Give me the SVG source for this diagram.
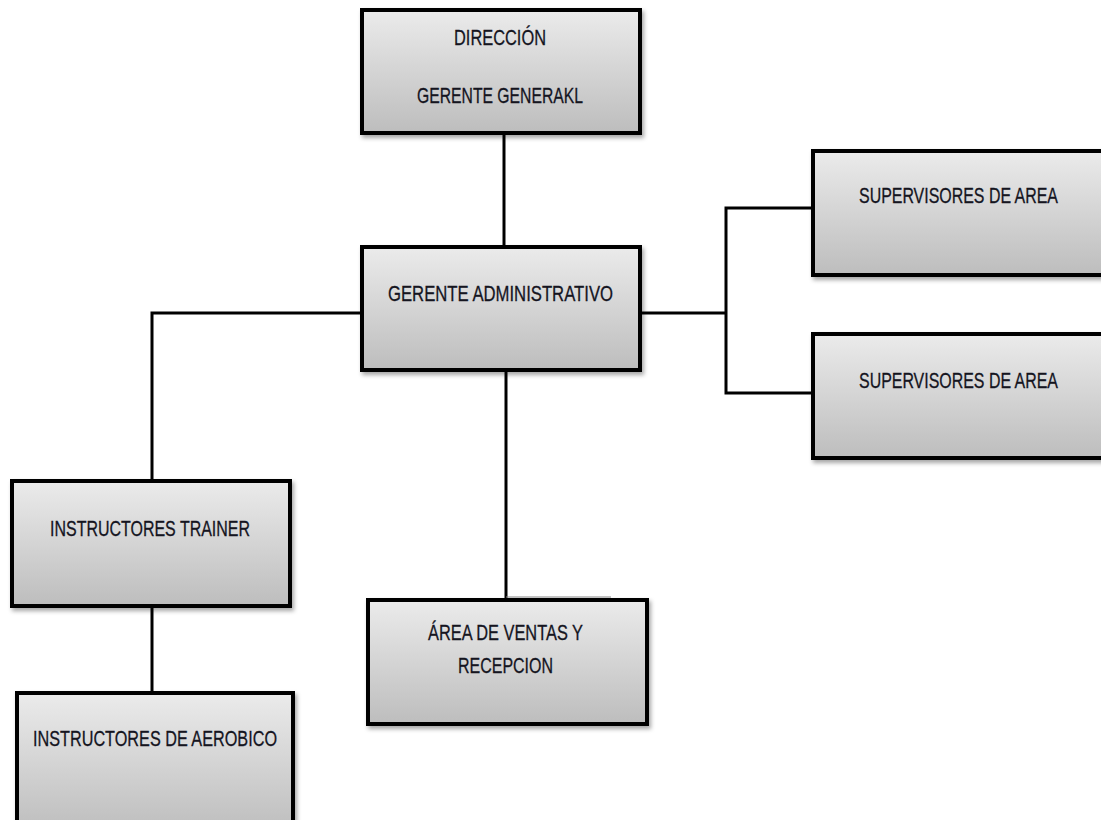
<svg xmlns="http://www.w3.org/2000/svg" width="1101" height="820" viewBox="0 0 1101 820">
<style>
.box{fill:url(#g);stroke:#000;stroke-width:4;filter:url(#sh)}
.t{font-family:"Liberation Sans",Arial,sans-serif;font-size:22px;fill:#15151f;stroke:#15151f;stroke-width:0.3;text-anchor:start}
.c{fill:none;stroke:#000;stroke-width:3}
</style>
<defs>
<linearGradient id="g" x1="0" y1="0" x2="0" y2="1">
<stop offset="0" stop-color="#ebebeb"/>
<stop offset="1" stop-color="#bdbdbd"/>
</linearGradient>
<filter id="sh" x="-10%" y="-10%" width="130%" height="130%">
<feDropShadow dx="2" dy="3" stdDeviation="2" flood-color="#000" flood-opacity="0.35"/>
</filter>
</defs>
<rect width="1101" height="820" fill="#fff"/>
<g id="connectors">
<line class="c" x1="504" y1="133" x2="504" y2="247"/>
<polyline class="c" points="640,313 726,313"/>
<polyline class="c" points="813,208 726,208 726,393 813,393"/>
<polyline class="c" points="362,313 152,313 152,481"/>
<line class="c" x1="152" y1="606" x2="152" y2="693"/>
<line class="c" x1="506" y1="370" x2="506" y2="600"/>
<line x1="506" y1="597" x2="611" y2="597" stroke="#888" stroke-width="1"/>
</g>
<g id="n-direccion">
<rect class="box" x="362" y="10" width="278" height="123"/>
<text class="t" x="454" y="45" textLength="92" lengthAdjust="spacingAndGlyphs">DIRECCIÓN</text>
<text class="t" x="417" y="103" textLength="166" lengthAdjust="spacingAndGlyphs">GERENTE GENERAKL</text>
</g>
<g id="n-gerente-admin">
<rect class="box" x="362" y="247" width="278" height="123"/>
<text class="t" x="388" y="301" textLength="225" lengthAdjust="spacingAndGlyphs">GERENTE ADMINISTRATIVO</text>
</g>
<g id="n-supervisores-1">
<rect class="box" x="813" y="151" width="300" height="124"/>
<text class="t" x="859" y="203" textLength="199" lengthAdjust="spacingAndGlyphs">SUPERVISORES DE AREA</text>
</g>
<g id="n-supervisores-2">
<rect class="box" x="813" y="334" width="300" height="124"/>
<text class="t" x="859" y="388" textLength="199" lengthAdjust="spacingAndGlyphs">SUPERVISORES DE AREA</text>
</g>
<g id="n-instructores-trainer">
<rect class="box" x="12" y="481" width="278" height="125"/>
<text class="t" x="50" y="536" textLength="200" lengthAdjust="spacingAndGlyphs">INSTRUCTORES TRAINER</text>
</g>
<g id="n-instructores-aerobico">
<rect class="box" x="17" y="693" width="276" height="140"/>
<text class="t" x="33" y="746" textLength="244" lengthAdjust="spacingAndGlyphs">INSTRUCTORES DE AEROBICO</text>
</g>
<g id="n-ventas">
<rect class="box" x="368" y="600" width="279" height="124"/>
<text class="t" x="428" y="640" textLength="155" lengthAdjust="spacingAndGlyphs">ÁREA DE VENTAS Y</text>
<text class="t" x="458" y="673" textLength="95" lengthAdjust="spacingAndGlyphs">RECEPCION</text>
</g>
</svg>
